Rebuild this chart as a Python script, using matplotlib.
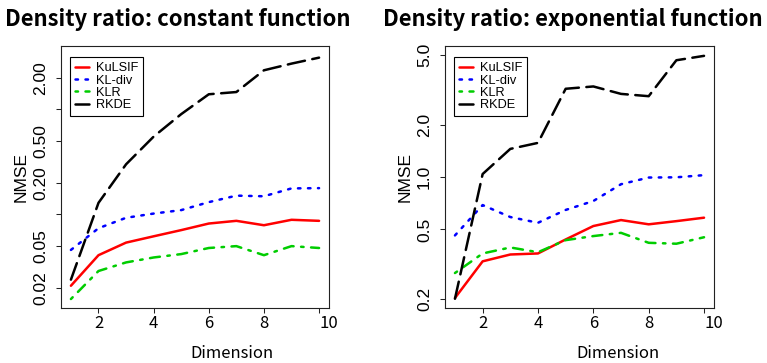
"""Two-panel NMSE vs dimension comparison (log scale), R base-graphics look."""

import matplotlib

matplotlib.use("Agg")
import matplotlib.pyplot as plt
from matplotlib.ticker import FixedLocator, FixedFormatter, NullLocator

DIMENSIONS = [1, 2, 3, 4, 5, 6, 7, 8, 9, 10]
METHODS = ["KuLSIF", "KL-div", "KLR", "RKDE"]

# Density ratio: constant function
CONST_KULSIF = [0.021, 0.041, 0.054, 0.062, 0.071, 0.082, 0.087, 0.079, 0.089, 0.087]
CONST_KLDIV = [0.046, 0.074, 0.093, 0.102, 0.110, 0.131, 0.151, 0.149, 0.177, 0.178]
CONST_KLR = [0.0157, 0.029, 0.035, 0.039, 0.042, 0.048, 0.050, 0.041, 0.050, 0.048]
CONST_RKDE = [0.024, 0.129, 0.30, 0.55, 0.90, 1.39, 1.46, 2.35, 2.72, 3.10]

# Density ratio: exponential function
EXP_KULSIF = [0.202, 0.328, 0.359, 0.364, 0.438, 0.523, 0.566, 0.535, 0.558, 0.584]
EXP_KLDIV = [0.462, 0.690, 0.589, 0.546, 0.647, 0.728, 0.909, 0.993, 0.996, 1.025]
EXP_KLR = [0.281, 0.364, 0.394, 0.370, 0.434, 0.458, 0.478, 0.419, 0.414, 0.451]
EXP_RKDE = [0.200, 1.04, 1.45, 1.57, 3.21, 3.31, 3.00, 2.91, 4.68, 4.96]

TITLES = ["Density ratio: constant function", "Density ratio: exponential function"]
X_TICKS = [2, 4, 6, 8, 10]
CONST_Y_TICKS = [0.02, 0.05, 0.1, 0.2, 0.5, 1.0, 2.0]
CONST_Y_LABELS = ["0.02", "0.05", "", "0.20", "0.50", "", "2.00"]
EXP_Y_TICKS = [0.2, 0.5, 1.0, 2.0, 5.0]
EXP_Y_LABELS = ["0.2", "0.5", "1.0", "2.0", "5.0"]

COLORS = ["#FF0000", "#0000FF", "#00CD00", "#000000"]
# R lty patterns in units of line width: solid, dotted, dotdash, longdash
DASHES = [None, (1, 3), (1, 3, 4, 3), (7, 3)]

LW = 1.8
W, H = 767, 363


def draw_panel(ax, series, yticks, ylabels, ylim):
    for values, label, color, dash in zip(series, METHODS, COLORS, DASHES):
        line, = ax.plot(DIMENSIONS, values, color=color, lw=LW, label=label,
                        solid_capstyle="round", dash_capstyle="round")
        if dash is not None:
            line.set_dashes(dash)

    ax.set_yscale("log")
    ax.set_xlim(0.64, 10.36)
    ax.set_ylim(*ylim)

    ax.xaxis.set_major_locator(FixedLocator(X_TICKS))
    ax.xaxis.set_minor_locator(NullLocator())
    ax.yaxis.set_major_locator(FixedLocator(yticks))
    ax.yaxis.set_major_formatter(FixedFormatter(ylabels))
    ax.yaxis.set_minor_locator(NullLocator())

    ax.tick_params(axis="both", direction="out", length=3.4, width=0.75,
                   color="#222222")
    ax.tick_params(axis="x", pad=1.5, labelsize=12)
    ax.tick_params(axis="y", pad=6.0, labelsize=12.5)
    for lbl in ax.get_xticklabels():
        lbl.set_fontfamily(["Noto Sans CJK JP", "DejaVu Sans"])
    ax.get_xticklabels()[-1].set_ha("left")
    for lbl in ax.get_yticklabels():
        lbl.set_fontfamily("Liberation Sans")
        lbl.set_rotation(90)
        lbl.set_va("center")
    for sp in ax.spines.values():
        sp.set_linewidth(0.8)
        sp.set_color("#222222")

    ax.set_ylabel("NMSE", fontsize=12.5, family="Liberation Sans", labelpad=3)

    leg = ax.legend(loc="upper left", bbox_to_anchor=(0.032, 0.957),
                    borderaxespad=0, handlelength=1.1,
                    handletextpad=0.55, labelspacing=0.02, borderpad=0.4,
                    fancybox=False, framealpha=1, edgecolor="black",
                    prop={"family": "Liberation Sans", "size": 9.2})
    leg.get_frame().set_linewidth(0.8)


fig = plt.figure(figsize=(W / 100, H / 100), dpi=100)

ax1 = fig.add_axes([61 / W, 55 / H, 268 / W, 262 / H])
ax2 = fig.add_axes([445 / W, 55 / H, 269 / W, 262 / H])

draw_panel(ax1, [CONST_KULSIF, CONST_KLDIV, CONST_KLR, CONST_RKDE],
           CONST_Y_TICKS, CONST_Y_LABELS, (0.0129, 4.0))
draw_panel(ax2, [EXP_KULSIF, EXP_KLDIV, EXP_KLR, EXP_RKDE],
           EXP_Y_TICKS, EXP_Y_LABELS, (0.177, 5.65))

title_kw = dict(fontsize=15.9, fontweight="bold", ha="center", va="baseline",
                family=["Noto Sans CJK JP", "DejaVu Sans"])
fig.text(178 / W, 1 - 26 / H, TITLES[0], **title_kw)
fig.text(573 / W, 1 - 26 / H, TITLES[1], **title_kw)

xlab_kw = dict(fontsize=12, ha="center", va="baseline",
               family=["Noto Sans CJK JP", "DejaVu Sans"])
fig.text(232 / W, 1 - 358 / H, "Dimension", **xlab_kw)
fig.text(618 / W, 1 - 358 / H, "Dimension", **xlab_kw)

fig.savefig("out.png", dpi=100)
